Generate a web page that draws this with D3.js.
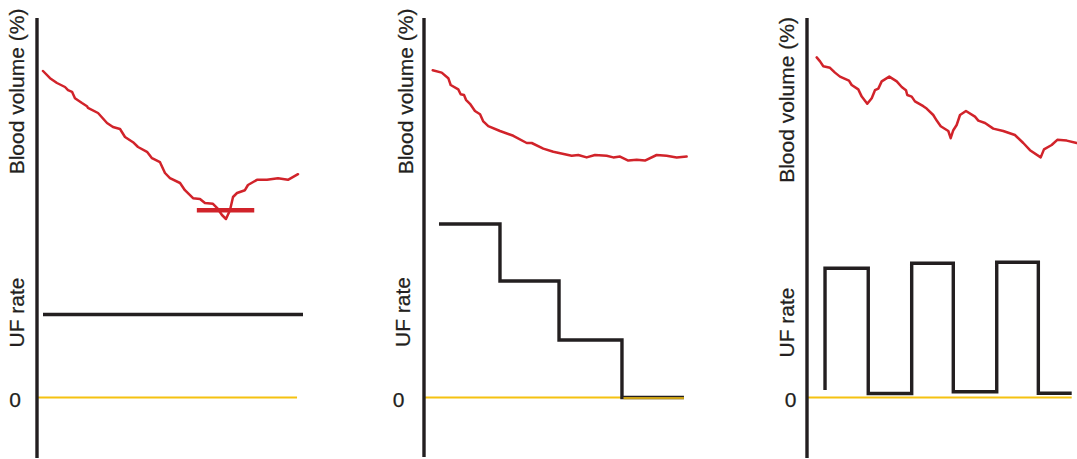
<!DOCTYPE html>
<html>
<head>
<meta charset="utf-8">
<script src="https://cdn.jsdelivr.net/npm/d3@7"></script>
<style>
  html, body { margin: 0; padding: 0; background: #fff; }
  svg { display: block; }
  text { font-family: "Liberation Sans", Arial, Helvetica, sans-serif; fill: #231f20; stroke: #231f20; stroke-width: 0.25px; }
</style>
</head>
<body>
<svg id="chart" width="1077" height="459"></svg>
<script>
// ---- Data: time in minutes, blood volume in %, UF rate in mL/h ----

// Panel A: constant UF rate, blood volume falls to a critical threshold
const bvConstant = [
  [0, 100.0], [6.5, 99.1], [12.9, 98.5], [20.3, 98.0], [23.1, 97.6], [26.8, 97.4],
  [29.5, 96.6], [36, 96.0], [40.6, 95.6], [41.5, 95.4], [50.8, 94.75], [59.1, 93.5],
  [64.6, 93.0], [71.1, 92.75], [75.7, 91.75], [83.1, 91.1], [87.7, 90.5], [96, 89.9],
  [100.6, 89.1], [108, 88.6], [112.6, 87.25], [117.2, 86.6], [126.5, 86.0], [131, 85.1],
  [138.5, 84.1], [144.9, 84.0], [149.5, 83.5], [156.9, 83.4], [160.6, 82.9], [165.2, 82.0],
  [168.9, 81.5], [172.6, 82.6], [175.4, 84.25], [179.1, 84.75], [186.4, 85.1], [189.2, 85.75],
  [197.5, 86.4], [206.8, 86.4], [216.9, 86.6], [226.1, 86.4], [235.4, 87.1]
];
const criticalBV = { from: 142, to: 195, value: 82.6 };
const ufConstant = [[0, 830], [240, 830]];

// Panel B: stepwise decreasing UF rate
const bvStepped = [
  [2.5, 100.1], [10.8, 99.8], [16.9, 99.1], [19.1, 98.25], [26.1, 97.7], [28.3, 97.1],
  [31.4, 97.0], [33.2, 96.4], [36.9, 95.9], [41.5, 95.0], [46.2, 94.6], [49.2, 93.7],
  [53.8, 93.1], [64.6, 92.5], [76.9, 91.9], [89.3, 91.0], [93.9, 91.0], [104.6, 90.3],
  [113.8, 89.9], [130.8, 89.4], [136.9, 89.5], [144.6, 89.2], [152.3, 89.5], [163.1, 89.4],
  [169.2, 89.2], [175.4, 89.3], [183, 88.8], [190.8, 88.9], [198.4, 88.8], [209.2, 89.5],
  [218.4, 89.4], [227.7, 89.2], [236.9, 89.3]
];
const ufStepped = [[8.3, 1735], [64.6, 1165], [119.1, 575], [177.2, 0], [234.4, 0]];

// Panel C: intermittent (on/off) UF rate
const bvPulsed = [
  [3.4, 101.7], [6.5, 101.2], [9.5, 100.6], [15.7, 100.4], [20.3, 99.8], [24.9, 99.3],
  [33.2, 98.8], [35.7, 98.25], [41.8, 97.7], [45, 96.8], [50.1, 95.9], [54.2, 96.6],
  [57.2, 97.6], [60.3, 97.8], [63.4, 98.7], [70.4, 99.3], [77.3, 98.7], [81.9, 98.0],
  [85.8, 97.6], [87, 97.0], [91.1, 96.8], [94.1, 96.2], [101.8, 95.6], [104.9, 95.3],
  [111, 94.5], [114.2, 93.8], [117.9, 93.1], [124.9, 92.5], [127.1, 91.6], [129.5, 92.6],
  [132.6, 93.25], [135.7, 94.5], [141.2, 95.0], [149.5, 94.3], [152.6, 93.8], [158.8, 93.5],
  [166.4, 92.8], [175.6, 92.5], [186.4, 92.0], [194.1, 91.0], [200.3, 90.1], [210.2, 89.2],
  [213.2, 90.2], [220.3, 90.75], [225.5, 91.4], [234.2, 91.3], [243.4, 91.0]
];
const ufPulsed = [
  [11.1, 75], [11.1, 1292], [51.0, 40], [91.1, 1342], [129.5, 58],
  [169.6, 1352], [208.0, 42], [238.8, 42]
];

// Axis text
const bvLabel = "Blood volume (%)";
const ufLabel = "UF rate";
const zeroTick = "0";

// ---- Layout ----
const panels = [
  { axisX: 37,  bv: bvConstant, uf: ufConstant, ufCurve: d3.curveLinear,
    bvLabelX: 16.5, bvLabelY: 91.5, ufLabelX: 16.7, ufLabelY: 312.5, zeroX: 15,
    axisTop: 18, axisBottom: 458, baseEnd: 234.5, critical: criticalBV },
  { axisX: 424, bv: bvStepped, uf: ufStepped, ufCurve: d3.curveStepAfter,
    bvLabelX: 405, bvLabelY: 91.5, ufLabelX: 402, ufLabelY: 312, zeroX: 398.5,
    axisTop: 18, axisBottom: 457, baseEnd: 234.5 },
  { axisX: 807, bv: bvPulsed, uf: ufPulsed, ufCurve: d3.curveStepAfter,
    bvLabelX: 786.5, bvLabelY: 100, ufLabelX: 786, ufLabelY: 322.5, zeroX: 790.5,
    axisTop: 18, axisBottom: 458, baseEnd: 238.8 }
];

const INK = "#231f20";
const RED = "#d1232a";
const YELLOW = "#f5c211";
const FONT_SIZE = 21;

const svg = d3.select("#chart");

// Shared vertical scales
const yBV = d3.scaleLinear().domain([100, 80]).range([71, 231]);
const yUF = d3.scaleLinear().domain([0, 2000]).range([397.5, 197.5]);

panels.forEach(p => {
  const g = svg.append("g");
  const x = d3.scaleLinear().domain([0, 240]).range([p.axisX + 6, p.axisX + 266]);

  // zero baseline for UF rate
  g.append("line")
    .attr("x1", p.axisX + 1).attr("x2", x(p.baseEnd))
    .attr("y1", yUF(0)).attr("y2", yUF(0))
    .attr("stroke", YELLOW).attr("stroke-width", 2.2);

  // UF rate profile
  const ufLine = d3.line()
    .x(d => x(d[0])).y(d => yUF(d[1]))
    .curve(p.ufCurve);
  g.append("path")
    .datum(p.uf)
    .attr("d", ufLine)
    .attr("fill", "none")
    .attr("stroke", INK)
    .attr("stroke-width", 3.4)
    .attr("stroke-linejoin", "miter");

  // baseline shows through where the UF line runs along zero
  const n = p.uf.length;
  if (p.uf[n - 1][1] === 0 && p.uf[n - 2][1] === 0) {
    g.append("line")
      .attr("x1", x(p.uf[n - 2][0]) + 1.5).attr("x2", x(p.uf[n - 1][0]))
      .attr("y1", yUF(0) + 0.6).attr("y2", yUF(0) + 0.6)
      .attr("stroke", YELLOW).attr("stroke-opacity", 0.8).attr("stroke-width", 2.4);
  }

  // blood volume curve
  const bvLine = d3.line().x(d => x(d[0])).y(d => yBV(d[1]));
  g.append("path")
    .datum(p.bv)
    .attr("d", bvLine)
    .attr("fill", "none")
    .attr("stroke", RED)
    .attr("stroke-width", 2.5)
    .attr("stroke-linejoin", "round")
    .attr("stroke-linecap", "round");

  // critical blood volume threshold
  if (p.critical) {
    g.append("line")
      .attr("x1", x(p.critical.from)).attr("x2", x(p.critical.to))
      .attr("y1", yBV(p.critical.value)).attr("y2", yBV(p.critical.value))
      .attr("stroke", RED).attr("stroke-width", 4.5);
  }

  // vertical axis
  g.append("line")
    .attr("x1", p.axisX).attr("x2", p.axisX)
    .attr("y1", p.axisTop).attr("y2", p.axisBottom)
    .attr("stroke", INK).attr("stroke-width", 3.4);

  // axis titles
  g.append("text")
    .attr("transform", `translate(${p.bvLabelX},${p.bvLabelY}) rotate(-90)`)
    .attr("text-anchor", "middle")
    .attr("dominant-baseline", "central")
    .attr("font-size", FONT_SIZE)
    .text(bvLabel);

  g.append("text")
    .attr("transform", `translate(${p.ufLabelX},${p.ufLabelY}) rotate(-90)`)
    .attr("text-anchor", "middle")
    .attr("dominant-baseline", "central")
    .attr("font-size", FONT_SIZE)
    .text(ufLabel);

  // zero tick label
  g.append("text")
    .attr("x", p.zeroX)
    .attr("y", yUF(0) + 1.5)
    .attr("text-anchor", "middle")
    .attr("dominant-baseline", "central")
    .attr("font-size", FONT_SIZE)
    .text(zeroTick);
});
</script>
</body>
</html>
